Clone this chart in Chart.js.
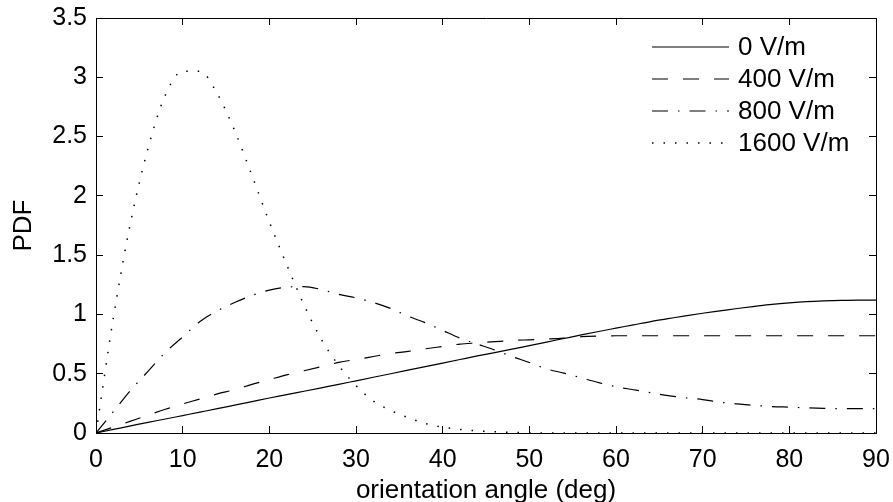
<!DOCTYPE html>
<html>
<head>
<meta charset="utf-8">
<script src="https://cdn.jsdelivr.net/npm/chart.js@4.4.0/dist/chart.umd.min.js"></script>
<style>
  html, body { margin: 0; padding: 0; background: #fff; }
  #wrap { width: 893px; height: 502px; }
</style>
</head>
<body>
<div id="wrap"><canvas id="pdfChart" width="893" height="502"></canvas></div>
<script>
// orientation angle (deg), sampled every 2 degrees
const angles = [0, 2, 4, 6, 8, 10, 12, 14, 16, 18, 20, 22, 24, 26, 28, 30, 32, 34, 36, 38, 40, 42, 44,
  46, 48, 50, 52, 54, 56, 58, 60, 62, 64, 66, 68, 70, 72, 74, 76, 78, 80, 82, 84, 86, 88, 90];

// PDF values, one list per field strength
const pdf0V = [0, 0.03, 0.06, 0.09, 0.118, 0.147, 0.176, 0.205, 0.235, 0.265, 0.295, 0.323, 0.352,
  0.381, 0.41, 0.44, 0.47, 0.5, 0.53, 0.56, 0.59, 0.62, 0.65, 0.678, 0.707, 0.737, 0.767, 0.797,
  0.827, 0.856, 0.884, 0.912, 0.94, 0.964, 0.988, 1.01, 1.03, 1.05, 1.068, 1.085, 1.098, 1.108,
  1.114, 1.118, 1.12, 1.12];
const pdf400V = [0, 0.05, 0.1, 0.15, 0.2, 0.245, 0.287, 0.33, 0.365, 0.41, 0.45, 0.49, 0.525, 0.56,
  0.595, 0.62, 0.645, 0.67, 0.688, 0.71, 0.73, 0.75, 0.76, 0.77, 0.78, 0.786, 0.792, 0.8, 0.812,
  0.818, 0.82, 0.82, 0.82, 0.82, 0.82, 0.82, 0.82, 0.82, 0.82, 0.82, 0.82, 0.82, 0.82, 0.82, 0.82, 0.82];
const pdf800V = [0, 0.18, 0.36, 0.52, 0.68, 0.81, 0.94, 1.03, 1.1, 1.16, 1.205, 1.23, 1.235, 1.21,
  1.17, 1.14, 1.1, 1.05, 0.985, 0.93, 0.865, 0.8, 0.75, 0.7, 0.645, 0.595, 0.54, 0.505, 0.465,
  0.425, 0.39, 0.365, 0.34, 0.315, 0.297, 0.282, 0.26, 0.245, 0.233, 0.223, 0.218, 0.212, 0.208,
  0.205, 0.205, 0.205];
const pdf1600V = [0, 0.97, 1.78, 2.4, 2.85, 3.05, 3.05, 2.86, 2.55, 2.17, 1.78, 1.42, 1.08, 0.79,
  0.57, 0.4, 0.27, 0.19, 0.13, 0.08, 0.05, 0.03, 0.018, 0.01, 0.006, 0.003, 0, 0, 0, 0, 0, 0, 0,
  0, 0, 0, 0, 0, 0, 0, 0, 0, 0, 0, 0, 0];

const seriesLabels = ['0 V/m', '400 V/m', '800 V/m', '1600 V/m'];
const xTickStep = 10;
const yTickStep = 0.5;

const FONT = "'Liberation Sans', Arial, Helvetica, sans-serif";
const tickFont = { family: FONT, size: 25 };
const titleFont = { family: FONT, size: 26 };

function toPoints(values) {
  return angles.map((a, i) => ({ x: a, y: values[i] }));
}

/** 固定坐标轴占位，去掉标签溢出带来的额外边距 */
function fixSize(prop, size) {
  return s => {
    s[prop] = size;
    s.paddingLeft = s.paddingRight = s.paddingTop = s.paddingBottom = 0;
  };
}

/** 图例画在绘图区右上角（无边框） */
const insideLegend = {
  id: 'insideLegend',
  afterDatasetsDraw(chart) {
    const { ctx, chartArea } = chart;
    ctx.save();
    ctx.font = '26px ' + FONT;
    ctx.textBaseline = 'middle';
    ctx.fillStyle = '#000';
    chart.data.datasets.forEach((ds, i) => {
      const y = chartArea.top + 29 + i * 32;
      ctx.beginPath();
      ctx.setLineDash(ds.borderDash || []);
      ctx.lineWidth = ds.borderWidth;
      ctx.strokeStyle = ds.borderColor;
      ctx.moveTo(chartArea.right - 224, y);
      ctx.lineTo(chartArea.right - 147, y);
      ctx.stroke();
      ctx.setLineDash([]);
      ctx.fillText(ds.label, chartArea.right - 138, y + 1);
    });
    ctx.restore();
  }
};

const lineStyles = [
  { borderDash: [], borderWidth: 1.2 },
  { borderDash: [16, 15], borderWidth: 1.2 },
  { borderDash: [16, 10, 1.5, 10], borderWidth: 1.2 },
  { borderDash: [1.5, 10], borderWidth: 1.5 }
];
const seriesValues = [pdf0V, pdf400V, pdf800V, pdf1600V];

const boxGrid = { drawOnChartArea: false, tickLength: -7, color: '#000', tickWidth: 1 };
const boxBorder = { color: '#000', width: 1 };

new Chart(document.getElementById('pdfChart'), {
  type: 'line',
  data: {
    datasets: seriesValues.map((vals, i) => ({
      label: seriesLabels[i],
      data: toPoints(vals),
      borderColor: '#000',
      borderWidth: lineStyles[i].borderWidth,
      borderDash: lineStyles[i].borderDash,
      pointRadius: 0,
      fill: false,
      cubicInterpolationMode: 'monotone'
    }))
  },
  options: {
    responsive: false,
    animation: false,
    devicePixelRatio: 1,
    layout: { padding: { top: 18, right: 17, left: 0, bottom: 0 } },
    plugins: {
      legend: { display: false },
      tooltip: { enabled: false }
    },
    scales: {
      x: {
        type: 'linear', position: 'bottom', min: 0, max: 90,
        ticks: { stepSize: xTickStep, color: '#000', font: tickFont, padding: 19, maxRotation: 0, autoSkip: false, callback: v => String(v) },
        grid: boxGrid,
        border: boxBorder,
        title: { display: true, text: 'orientation angle (deg)', color: '#000', font: titleFont, padding: { top: 0, bottom: -4 } },
        afterFit: fixSize('height', 69)
      },
      x2: {
        type: 'linear', position: 'top', min: 0, max: 90,
        ticks: { stepSize: xTickStep, display: false },
        grid: boxGrid,
        border: boxBorder,
        afterFit: fixSize('height', 0)
      },
      y: {
        type: 'linear', position: 'left', min: 0, max: 3.5,
        ticks: { stepSize: yTickStep, color: '#000', font: tickFont, padding: 16, callback: v => String(v) },
        grid: boxGrid,
        border: boxBorder,
        title: { display: true, text: 'PDF', color: '#000', font: titleFont, padding: { top: 8, bottom: 0 } },
        afterFit: fixSize('width', 96)
      },
      y2: {
        type: 'linear', position: 'right', min: 0, max: 3.5,
        ticks: { stepSize: yTickStep, display: false },
        grid: boxGrid,
        border: boxBorder,
        afterFit: fixSize('width', 0)
      }
    }
  },
  plugins: [insideLegend]
});
</script>
</body>
</html>
